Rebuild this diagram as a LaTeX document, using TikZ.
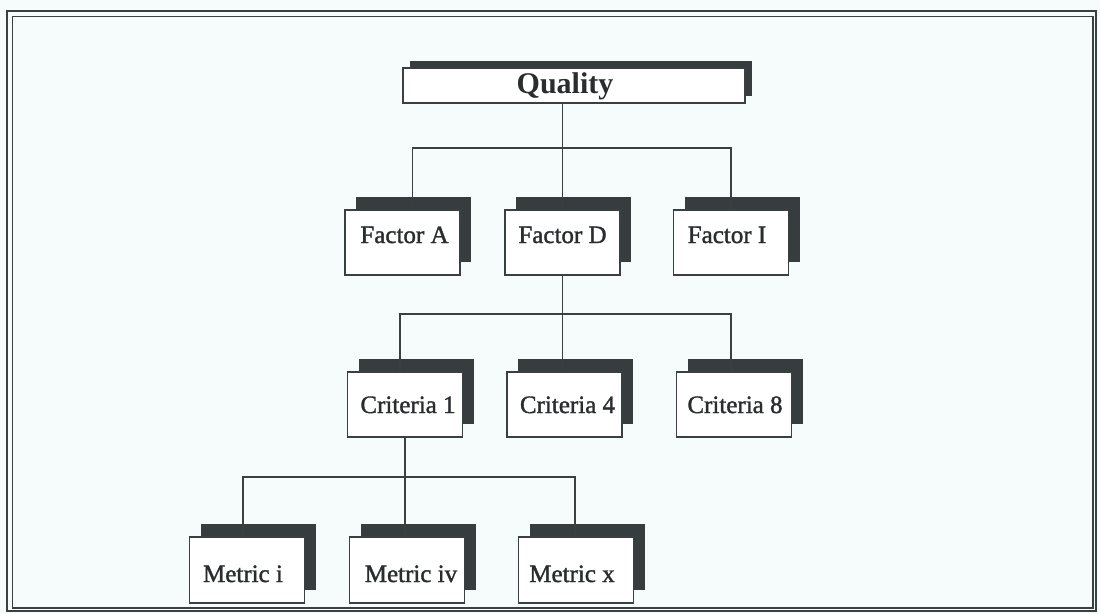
\documentclass[tikz,border=0pt]{standalone}
\usepackage{fontspec}
\setmainfont{Liberation Serif}
\newfontfamily\lblfont[FakeBold=1.4]{Liberation Serif}
\usetikzlibrary{shadows}
\definecolor{paper}{RGB}{246,251,251}
\definecolor{ink}{RGB}{58,64,66}
\definecolor{shade}{RGB}{55,60,62}
\tikzset{
  tierbox/.style={draw=ink, line width=1.2pt, fill=white, minimum width=115pt,
    minimum height=65pt, inner sep=0pt,
    general shadow={fill=shade, shadow xshift=11pt, shadow yshift=13pt}},
  topbox/.style={draw=ink, line width=1.2pt, fill=white, minimum width=342pt,
    minimum height=35pt, inner sep=0pt,
    general shadow={fill=shade, shadow xshift=7pt, shadow yshift=7pt}},
  lbl/.style={anchor=base, inner sep=0pt, font=\lblfont\fontsize{25}{25}\selectfont, text=ink!70!black},
  toplbl/.style={anchor=base, inner sep=0pt, font=\bfseries\fontsize{30}{30}\selectfont, text=ink!70!black},
  link/.style={draw=ink, line width=1.6pt},
}
\begin{document}
\begin{tikzpicture}[x=1pt,y=-1pt]
\useasboundingbox (0,0) rectangle (1100,613);
\fill[paper] (0,0) rectangle (1100,613);
% double frame
\draw[ink, line width=2pt] (7,11) rectangle (1096,611);
\draw[ink, line width=1.4pt] (12.5,16.5) rectangle (1093,608);

% boxes
\node[topbox] (Q) at (574,85.5) {};
\node[tierbox] (FA) at (402.5,242.5) {};
\node[tierbox] (FD) at (562.5,242.5) {};
\node[tierbox] (FI) at (731,242.5) {};
\node[tierbox] (C1) at (405,404.5) {};
\node[tierbox] (C4) at (564.5,404.5) {};
\node[tierbox] (C8) at (734,404.5) {};
\node[tierbox, minimum width=115pt, minimum height=66pt] (M1) at (247,570) {};
\node[tierbox, minimum width=115pt, minimum height=66pt] (M4) at (407,570) {};
\node[tierbox, minimum width=115pt, minimum height=66pt] (M10) at (576,570) {};

% labels
\node[toplbl] (tQ) at ([xshift=-9pt,yshift=-7.5pt]Q.center) {Quality};
\node[lbl] (tFA) at ([xshift=2pt,yshift=-0.5pt]FA.center) {Factor A};
\node[lbl] (tFD) at ([yshift=-0.5pt]FD.center) {Factor D};
\node[lbl] (tFI) at ([xshift=-4pt,yshift=-0.5pt]FI.center) {Factor I};
\node[lbl] (tC1) at ([xshift=3pt,yshift=-8.5pt]C1.center) {Criteria 1};
\node[lbl] (tC4) at ([xshift=3pt,yshift=-8.5pt]C4.center) {Criteria 4};
\node[lbl] (tC8) at ([xshift=1pt,yshift=-8.5pt]C8.center) {Criteria 8};
\node[lbl] (tM1) at ([xshift=-4pt,yshift=-12pt]M1.center) {Metric i};
\node[lbl] (tM4) at ([xshift=4pt,yshift=-12pt]M4.center) {Metric iv};
\node[lbl] (tM10) at ([xshift=-4pt,yshift=-12pt]M10.center) {Metric x};

% branch levels
\coordinate (bar1) at (0,148);
\coordinate (bar2) at (0,314);
\coordinate (bar3) at (0,477);

% connectors
\draw[link] (FD.north |- Q.south) -- (FD.north);
\draw[link] ([xshift=10pt]FA.north) -- ([xshift=10pt]FA.north |- bar1) -- (FI.north |- bar1) -- (FI.north);
\draw[link] (FD.south) -- (FD.south |- C4.north);
\draw[link] ([xshift=-5pt]C1.north) -- ([xshift=-5pt]C1.north |- bar2) -- ([xshift=-3pt]C8.north |- bar2) -- ([xshift=-3pt]C8.north);
\draw[link] (C1.south) -- (C1.south |- M4.north);
\draw[link] ([xshift=-4pt]M1.north) -- ([xshift=-4pt]M1.north |- bar3) -- ([xshift=-1pt]M10.north |- bar3) -- ([xshift=-1pt]M10.north);
\end{tikzpicture}
\end{document}
